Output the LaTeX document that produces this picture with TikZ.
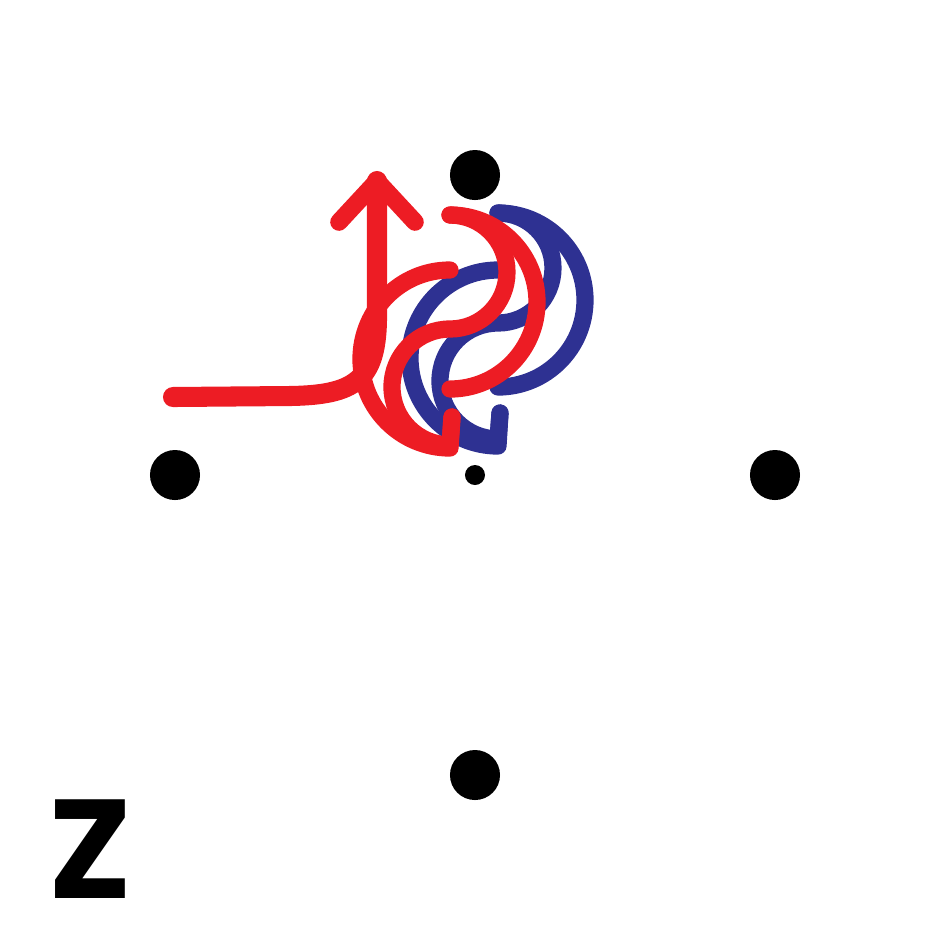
\documentclass[tikz,border=0pt]{standalone}
\usepackage{fontspec}
\newfontfamily\zfont{Poppins}
\definecolor{myred}{RGB}{237,28,36}
\definecolor{myblue}{RGB}{46,49,146}
\begin{document}
\begin{tikzpicture}[x=0.01cm,y=-0.01cm,
  redln/.style={draw=myred,line width=4.9pt,line cap=round,line join=round},
  blueln/.style={draw=myblue,line width=4.9pt,line cap=round,line join=round},
  dotnode/.style={circle,fill=black,inner sep=0pt,minimum size=0.5cm}]
\useasboundingbox (0,0) rectangle (950,950);
% dots
\node[dotnode] (dtop) at (475,175) {};
\node[dotnode] (dleft) at (175,475) {};
\node[dotnode] (dright) at (775,475) {};
\node[dotnode] (dbottom) at (475,775) {};
\node[circle,fill=black,inner sep=0pt,minimum size=0.2cm] (dcenter) at (475,475) {};
% label
\node[font=\zfont\bfseries\fontsize{40}{40}\selectfont,inner sep=0pt] (zlabel) at (90,849) {Z};
% blue curves
\coordinate (bt) at (498,213);
\coordinate (bm) at (498,270);
\draw[blueln] (bt) arc[start angle=-90,end angle=90,radius=87];
\draw[blueln] (bt) arc[start angle=-90,end angle=90,radius=55]
   arc[start angle=-90,end angle=-270,radius=58] -- (500,413);
\draw[blueln] (bm) arc[start angle=-90,end angle=-270,radius=88] -- (500,413);
% red curves
\coordinate (rt) at (450,215);
\coordinate (rm) at (450,270);
\draw[redln] (rt) arc[start angle=-90,end angle=90,radius=87];
\draw[redln] (rt) arc[start angle=-90,end angle=90,radius=57]
   arc[start angle=-90,end angle=-270,radius=58] -- (452,417);
\draw[redln] (rm) arc[start angle=-90,end angle=-270,radius=89] -- (452,417);
% red arrow path
\coordinate (rstart) at (173,397);
\coordinate (rtip) at (377,181);
\draw[redln,line width=5.7pt] (rstart) -- (290,396) .. controls (355,395) and (376,380) .. (377,320) -- (rtip);
\draw[redln,line width=5pt] (339,222) -- (rtip) -- (415,222);
\end{tikzpicture}
\end{document}
